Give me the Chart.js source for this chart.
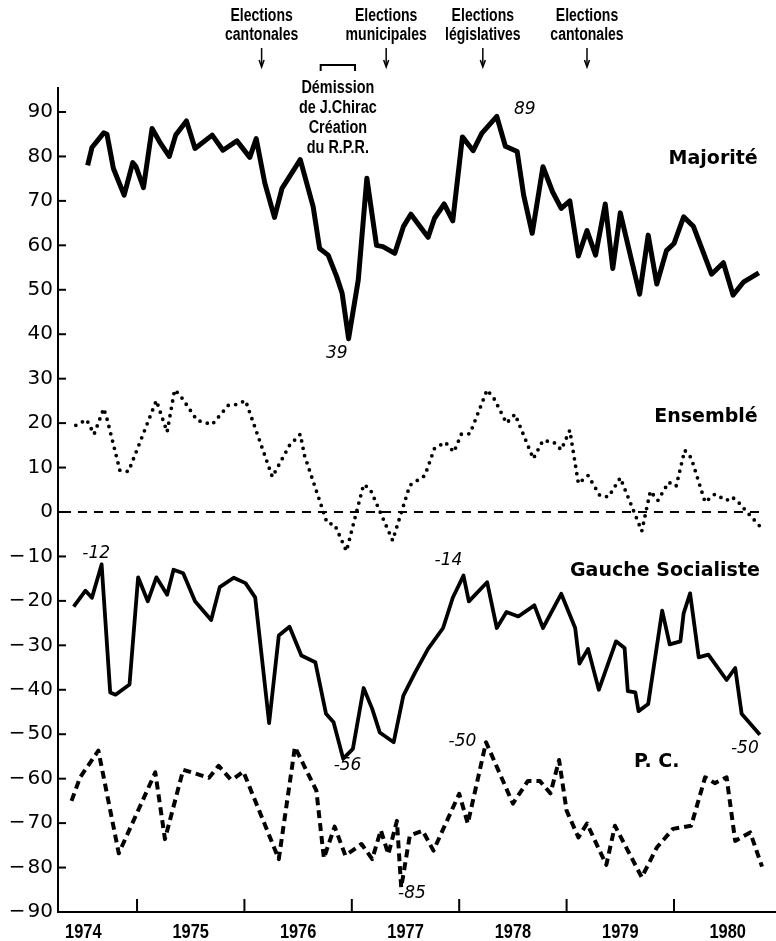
<!DOCTYPE html>
<html lang="fr">
<head>
<meta charset="utf-8">
<title>Popularité 1974-1980</title>
<script src="https://cdn.jsdelivr.net/npm/chart.js@4.4.1/dist/chart.umd.min.js"></script>
<style>
  html, body { margin: 0; padding: 0; background: #fff; }
  #wrap { width: 776px; height: 941px; }
</style>
</head>
<body>
<div id="wrap"><canvas id="chart" width="776" height="941"></canvas></div>
<script>
// --------- Data (dates as decimal years) ---------
const majDates = [1974.54, 1974.58, 1974.69, 1974.72, 1974.78, 1974.88, 1974.96, 1974.99,
  1975.06, 1975.14, 1975.21, 1975.30, 1975.36, 1975.46, 1975.54, 1975.70, 1975.80, 1975.93,
  1976.05, 1976.11, 1976.19, 1976.28, 1976.35, 1976.52, 1976.64, 1976.70, 1976.78, 1976.86, 1976.91, 1976.97,
  1977.06, 1977.14, 1977.23, 1977.29, 1977.40, 1977.48, 1977.55, 1977.71, 1977.77, 1977.86, 1977.94,
  1978.03, 1978.13, 1978.21, 1978.35, 1978.43, 1978.54, 1978.60, 1978.68, 1978.78, 1978.87, 1978.95,
  1979.03, 1979.11, 1979.19, 1979.27, 1979.36, 1979.43, 1979.50, 1979.68, 1979.76, 1979.84, 1979.93,
  1980.00, 1980.09, 1980.18, 1980.35, 1980.46, 1980.55, 1980.65, 1980.79];
const majValues = [78, 82, 85.3, 85, 77.3, 71.3, 78.6, 77.7,
  73, 86.3, 83.3, 80, 84.8, 88, 81.8, 84.8, 81.4, 83.5,
  79.8, 84, 74, 66.3, 72.8, 79.3, 68.7, 59.3, 57.8, 52.9, 49.2, 39,
  52.2, 75.1, 60, 59.7, 58.2, 64.2, 67, 61.8, 66.1, 69.3, 65.5,
  84.4, 81.3, 85.2, 89, 82.3, 81.1, 71.3, 62.7, 77.7, 72, 68.3,
  70, 57.6, 63.3, 57.8, 69.3, 54.8, 67.3, 49, 62.3, 51.3, 58.8,
  60.4, 66.4, 64.3, 53.5, 56.1, 48.8, 51.8, 53.8];

const ensDates = [1974.43, 1974.53, 1974.60, 1974.69, 1974.72, 1974.84, 1974.92,
  1975.18, 1975.28, 1975.35, 1975.40, 1975.56, 1975.70, 1975.85, 1975.93,
  1976.01, 1976.26, 1976.42, 1976.52, 1976.56, 1976.77, 1976.84, 1976.95,
  1977.11, 1977.17, 1977.38, 1977.54, 1977.68, 1977.77, 1977.87, 1977.95,
  1978.02, 1978.10, 1978.26, 1978.33, 1978.44, 1978.52, 1978.69, 1978.78, 1978.88, 1978.95,
  1979.03, 1979.11, 1979.20, 1979.31, 1979.39, 1979.50, 1979.70, 1979.78, 1979.85, 1979.95,
  1980.02, 1980.10, 1980.16, 1980.29, 1980.38, 1980.49, 1980.54, 1980.60, 1980.68, 1980.80];
const ensValues = [19.5, 20.8, 17.5, 23.3, 21, 9.4, 9.1,
  25.1, 18, 27.5, 26.3, 20.6, 19.7, 24, 24.2,
  25.1, 7.9, 15, 17.5, 12.7, -2.5, -2.8, -8.8,
  6.2, 5.2, -6.4, 6, 8.2, 14.3, 15.7, 13.5,
  17.5, 17.6, 27.5, 25.3, 20, 22, 12, 16.1, 15.7, 14,
  18.4, 6.4, 8.2, 3.7, 3.4, 7.7, -4.3, 4.7, 2.6, 6.7,
  5.8, 13.9, 12.2, 2.2, 4, 2.6, 3.4, 2.2, 0, -3.2];

const gsDates = [1974.41, 1974.52, 1974.58, 1974.67, 1974.75, 1974.80, 1974.93,
  1975.01, 1975.10, 1975.18, 1975.28, 1975.34, 1975.43, 1975.54, 1975.69, 1975.77, 1975.90,
  1976.01, 1976.10, 1976.23, 1976.32, 1976.42, 1976.53, 1976.66, 1976.76, 1976.83, 1976.92,
  1977.01, 1977.11, 1977.19, 1977.26, 1977.39, 1977.48, 1977.59, 1977.71, 1977.85, 1977.94,
  1978.04, 1978.09, 1978.26, 1978.35, 1978.44, 1978.55, 1978.70, 1978.78, 1978.95,
  1979.08, 1979.12, 1979.20, 1979.30, 1979.46, 1979.54, 1979.57, 1979.64, 1979.67, 1979.76, 1979.89, 1979.96,
  1980.06, 1980.09, 1980.15, 1980.23, 1980.32, 1980.49, 1980.57, 1980.63, 1980.80];
const gsValues = [-21.3, -17.7, -19.3, -11.8, -40.6, -41.1, -38.8,
  -14.7, -20.1, -14.7, -18.6, -13, -13.8, -20.1, -24.3, -16.9, -14.8,
  -16, -19.2, -47.5, -27.8, -25.8, -32.3, -33.8, -45.4, -47.3, -55.5,
  -53.3, -39.6, -44.3, -49.6, -51.8, -41.3, -36.1, -30.8, -26.1, -19.3,
  -14.3, -20.1, -15.8, -26.1, -22.5, -23.5, -21, -26.1, -18.4,
  -26.1, -34.1, -30.8, -40, -29.1, -30.6, -40.3, -40.6, -44.8, -43.2, -22.2, -29.8,
  -29.1, -22.8, -18.3, -32.7, -32.1, -37.8, -35.1, -45.4, -50.1];

const pcDates = [1974.39, 1974.47, 1974.64, 1974.83,
  1975.17, 1975.26, 1975.43, 1975.67, 1975.76, 1975.87, 1975.91, 1975.99,
  1976.32, 1976.47, 1976.67, 1976.74, 1976.84, 1976.94,
  1977.09, 1977.19, 1977.27, 1977.34, 1977.42, 1977.46, 1977.54, 1977.66, 1977.76,
  1978.00, 1978.08, 1978.25, 1978.50, 1978.64, 1978.75, 1978.85, 1978.93,
  1979.00, 1979.11, 1979.19, 1979.37, 1979.45, 1979.70, 1979.84, 1979.99,
  1980.16, 1980.29, 1980.38, 1980.49, 1980.57, 1980.71, 1980.82];
const pcValues = [-65, -59.7, -53.7, -76.8,
  -58.6, -73.6, -58, -59.8, -57.1, -60.1, -59.8, -58.4,
  -78.1, -52.9, -62.7, -77.9, -70.8, -77.3,
  -74.7, -78.1, -71.6, -77, -69.5, -84.5, -72.8, -71.7, -76.2,
  -63.4, -70.1, -51.8, -65.6, -60.5, -60.5, -63.3, -55.8,
  -67.2, -73.2, -70.1, -79.4, -70.6, -82.2, -75.5, -71.3,
  -70.6, -59.7, -61, -59.7, -74, -72.1, -79.8];

// --------- Axes / tick labels ---------
const yTicks = [90, 80, 70, 60, 50, 40, 30, 20, 10, 0, -10, -20, -30, -40, -50, -60, -70, -80, -90];
const yearLabels = ['1974', '1975', '1976', '1977', '1978', '1979', '1980'];
const yearBounds = [1975, 1976, 1977, 1978, 1979, 1980];
const zeroLineEnd = 1980.82;

// --------- Annotations ---------
const seriesNames = [
  { text: 'Majorité', x: 1980.78, y: 79.4 },
  { text: 'Ensemblé', x: 1980.78, y: 21.3 },
  { text: 'Gauche Socialiste', x: 1980.80, y: -13.2 },
  { text: 'P. C.', x: 1979.84, y: -56.2, align: 'center' },
];
const valueNotes = [
  { text: '89', x: 1978.61, y: 90.5 },
  { text: '39', x: 1976.86, y: 35.7 },
  { text: '-12', x: 1974.62, y: -9.3 },
  { text: '-14', x: 1977.90, y: -11 },
  { text: '-56', x: 1976.96, y: -57.1 },
  { text: '-50', x: 1978.03, y: -51.7 },
  { text: '-50', x: 1980.66, y: -53.2 },
  { text: '-85', x: 1977.56, y: -85.9 },
];
const elections = [
  { date: 1976.16, lines: ['Elections', 'cantonales'] },
  { date: 1977.32, lines: ['Elections', 'municipales'] },
  { date: 1978.22, lines: ['Elections', 'législatives'] },
  { date: 1979.19, lines: ['Elections', 'cantonales'] },
];
const chiracPeriod = [1976.71, 1977.03];
const chiracLines = ['Démission', 'de J.Chirac', 'Création', 'du R.P.R.'];

const toPoints = (dates, values) => dates.map((d, i) => ({ x: d, y: values[i] }));

const NARROW = '"Liberation Sans", Arial, sans-serif';
const WIDE = '"DejaVu Sans", sans-serif';

// condensed look: squeeze the text horizontally
const fillNarrow = (ctx, text, x, y, squeeze) => {
  ctx.save();
  ctx.translate(x, y);
  ctx.scale(squeeze, 1);
  ctx.fillText(text, 0, 0);
  ctx.restore();
};

// --------- Drawing helpers (plugin) ---------
const decorPlugin = {
  id: 'decor',
  beforeDatasetsDraw(chart) {
    const { ctx, chartArea, scales: { x, y } } = chart;
    const y0 = y.getPixelForValue(0);
    ctx.save();
    ctx.strokeStyle = '#000';
    ctx.lineWidth = 2;
    ctx.setLineDash([9, 7]);
    ctx.beginPath();
    ctx.moveTo(chartArea.left + 4, y0);
    ctx.lineTo(x.getPixelForValue(zeroLineEnd), y0);
    ctx.stroke();
    ctx.restore();
  },
  afterDraw(chart) {
    const { ctx, chartArea, scales: { x, y } } = chart;
    ctx.save();
    ctx.strokeStyle = '#000';
    ctx.fillStyle = '#000';

    // tick marks pointing inside
    ctx.lineWidth = 2;
    yTicks.forEach(v => {
      const py = y.getPixelForValue(v);
      ctx.beginPath();
      ctx.moveTo(chartArea.left, py);
      ctx.lineTo(chartArea.left + 8, py);
      ctx.stroke();
    });
    yearBounds.forEach(v => {
      const px = x.getPixelForValue(v);
      ctx.beginPath();
      ctx.moveTo(px, chartArea.bottom);
      ctx.lineTo(px, chartArea.bottom - 13);
      ctx.stroke();
    });

    // year labels, centred on each year
    ctx.textAlign = 'center';
    ctx.textBaseline = 'middle';
    ctx.font = 'bold 20px ' + NARROW;
    yearLabels.forEach(l => {
      fillNarrow(ctx, l, x.getPixelForValue(Number(l) + 0.5), chartArea.bottom + 20, 0.82);
    });

    // series names
    ctx.font = 'bold 19px ' + WIDE;
    seriesNames.forEach(s => {
      ctx.textAlign = s.align || 'right';
      ctx.fillText(s.text, x.getPixelForValue(s.x), y.getPixelForValue(s.y));
    });

    // value notes
    ctx.font = 'italic 17px ' + WIDE;
    ctx.textAlign = 'center';
    valueNotes.forEach(n => {
      ctx.fillText(n.text, x.getPixelForValue(n.x), y.getPixelForValue(n.y));
    });

    // elections above the plot
    ctx.font = 'bold 18px ' + NARROW;
    elections.forEach(e => {
      const px = x.getPixelForValue(e.date);
      fillNarrow(ctx, e.lines[0], px, 16, 0.78);
      fillNarrow(ctx, e.lines[1], px, 35, 0.78);
      ctx.lineWidth = 1.5;
      ctx.beginPath();
      ctx.moveTo(px, 48);
      ctx.lineTo(px, 66);
      ctx.stroke();
      ctx.beginPath();
      ctx.moveTo(px - 2.5, 60);
      ctx.lineTo(px, 67);
      ctx.lineTo(px + 2.5, 60);
      ctx.stroke();
    });

    // Chirac bracket + text
    const bx0 = x.getPixelForValue(chiracPeriod[0]);
    const bx1 = x.getPixelForValue(chiracPeriod[1]);
    ctx.lineWidth = 2;
    ctx.beginPath();
    ctx.moveTo(bx0, 71);
    ctx.lineTo(bx0, 65);
    ctx.lineTo(bx1, 65);
    ctx.lineTo(bx1, 71);
    ctx.stroke();
    const cx = (bx0 + bx1) / 2;
    chiracLines.forEach((t, i) => fillNarrow(ctx, t, cx, 88 + i * 20, 0.8));

    ctx.restore();
  }
};

// --------- Chart ---------
const ctx = document.getElementById('chart');

new Chart(ctx, {
  type: 'line',
  data: {
    datasets: [
      {
        label: 'Majorité',
        data: toPoints(majDates, majValues),
        borderColor: '#000',
        borderWidth: 5,
        borderJoinStyle: 'round',
        pointRadius: 0,
      },
      {
        label: 'Ensemblé',
        data: toPoints(ensDates, ensValues),
        borderColor: '#000',
        borderWidth: 3.8,
        borderDash: [0, 7.5],
        borderCapStyle: 'round',
        pointRadius: 0,
      },
      {
        label: 'Gauche Socialiste',
        data: toPoints(gsDates, gsValues),
        borderColor: '#000',
        borderWidth: 3.8,
        borderJoinStyle: 'round',
        pointRadius: 0,
      },
      {
        label: 'P.C.',
        data: toPoints(pcDates, pcValues),
        borderColor: '#000',
        borderWidth: 4,
        borderDash: [8, 5],
        borderJoinStyle: 'round',
        pointRadius: 0,
      },
    ]
  },
  options: {
    responsive: false,
    animation: false,
    devicePixelRatio: 1,
    layout: { padding: { top: 88, right: 0, left: 0, bottom: 0 } },
    plugins: {
      legend: { display: false },
      tooltip: { enabled: false },
    },
    scales: {
      x: {
        type: 'linear',
        min: 1974.264,
        max: 1980.95,
        grid: { display: false, drawTicks: false },
        border: { display: true, color: '#000', width: 2 },
        afterBuildTicks: (scale) => {
          scale.ticks = yearLabels.map(l => ({ value: Number(l) + 0.5 }));
        },
        afterFit: (scale) => { scale.height = 29; },
        ticks: { display: false },
      },
      y: {
        type: 'linear',
        min: -90,
        max: 95.4,
        grid: { display: false, drawTicks: false },
        border: { display: true, color: '#000', width: 2 },
        afterBuildTicks: (scale) => {
          scale.ticks = yTicks.map(v => ({ value: v }));
        },
        afterFit: (scale) => { scale.width = 58; },
        ticks: {
          padding: 5,
          color: '#000',
          font: { family: WIDE, size: 20 },
          callback: (v) => v < 0 ? '\u2212\u200a' + Math.abs(v) : String(v),
        },
      },
    },
  },
  plugins: [decorPlugin],
});
</script>
</body>
</html>
